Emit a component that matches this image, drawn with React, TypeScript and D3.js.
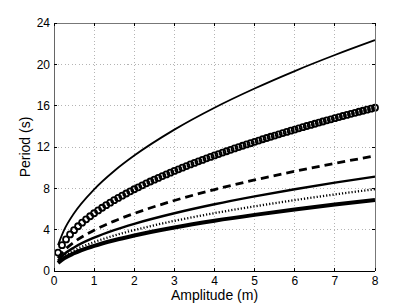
import React, { useEffect, useRef } from 'react';
import * as d3 from 'd3';

// amplitude positions used for the line series
const amplitude = [0.1, 0.25, 0.5, 1, 1.5, 2, 3, 4, 5, 6, 7, 8];

// periods (s)
const periodTop = [2.5, 3.95, 5.59, 7.9, 9.68, 11.17, 13.68, 15.8, 17.66, 19.35, 20.9, 22.34];
const periodDashed = [1.25, 1.97, 2.79, 3.94, 4.83, 5.57, 6.82, 7.88, 8.81, 9.65, 10.42, 11.14];
const periodSolid = [1.02, 1.62, 2.28, 3.23, 3.96, 4.57, 5.59, 6.46, 7.22, 7.91, 8.55, 9.13];
const periodDotted = [0.89, 1.4, 1.98, 2.8, 3.43, 3.96, 4.85, 5.6, 6.26, 6.86, 7.41, 7.92];
const periodThick = [0.77, 1.22, 1.72, 2.43, 2.98, 3.44, 4.21, 4.86, 5.43, 5.95, 6.43, 6.87];

// circle-marker series (one marker every 0.1 m)
const amplitudeMarkers = [
  0.1, 0.2, 0.3, 0.4, 0.5, 0.6, 0.7, 0.8, 0.9, 1.0,
  1.1, 1.2, 1.3, 1.4, 1.5, 1.6, 1.7, 1.8, 1.9, 2.0,
  2.1, 2.2, 2.3, 2.4, 2.5, 2.6, 2.7, 2.8, 2.9, 3.0,
  3.1, 3.2, 3.3, 3.4, 3.5, 3.6, 3.7, 3.8, 3.9, 4.0,
  4.1, 4.2, 4.3, 4.4, 4.5, 4.6, 4.7, 4.8, 4.9, 5.0,
  5.1, 5.2, 5.3, 5.4, 5.5, 5.6, 5.7, 5.8, 5.9, 6.0,
  6.1, 6.2, 6.3, 6.4, 6.5, 6.6, 6.7, 6.8, 6.9, 7.0,
  7.1, 7.2, 7.3, 7.4, 7.5, 7.6, 7.7, 7.8, 7.9, 8.0,
];
const periodMarkers = [
  1.77, 2.5, 3.06, 3.54, 3.95, 4.33, 4.68, 5.0, 5.3, 5.59,
  5.86, 6.12, 6.37, 6.61, 6.85, 7.07, 7.29, 7.5, 7.71, 7.91,
  8.1, 8.29, 8.48, 8.66, 8.84, 9.01, 9.19, 9.35, 9.52, 9.68,
  9.84, 10.0, 10.15, 10.31, 10.46, 10.61, 10.75, 10.9, 11.04, 11.18,
  11.32, 11.46, 11.59, 11.73, 11.86, 11.99, 12.12, 12.25, 12.37, 12.5,
  12.62, 12.75, 12.87, 12.99, 13.11, 13.23, 13.35, 13.46, 13.58, 13.69,
  13.81, 13.92, 14.03, 14.14, 14.25, 14.36, 14.47, 14.58, 14.68, 14.79,
  14.9, 15.0, 15.1, 15.21, 15.31, 15.41, 15.51, 15.61, 15.71, 15.81,
];

const xTicks = [0, 1, 2, 3, 4, 5, 6, 7, 8];
const yTicks = [0, 4, 8, 12, 16, 20, 24];

const FONT = 'Liberation Sans, Arial, Helvetica, sans-serif';

export default function App() {
  const svgRef = useRef<SVGSVGElement>(null);

  useEffect(() => {
    if (!svgRef.current) return;
    const W = 415;
    const H = 305;
    const margin = { top: 23, right: 40, bottom: 34, left: 54 };
    const width = W - margin.left - margin.right;
    const height = H - margin.top - margin.bottom;

    const root = d3.select(svgRef.current);
    root.selectAll('*').remove();
    root.attr('width', W).attr('height', H);

    const x = d3.scaleLinear().domain([0, 8]).range([0, width]);
    const y = d3.scaleLinear().domain([0, 24]).range([height, 0]);

    const g = root.append('g').attr('transform', `translate(${margin.left},${margin.top})`);

    // dotted grid
    const grid = g.append('g').attr('stroke', '#b4b4b4').attr('stroke-width', 1)
      .attr('stroke-dasharray', '1,2.5').attr('shape-rendering', 'crispEdges');
    xTicks.slice(1, -1).forEach((t) => {
      grid.append('line').attr('x1', x(t)).attr('x2', x(t)).attr('y1', 0).attr('y2', height);
    });
    yTicks.slice(1, -1).forEach((t) => {
      grid.append('line').attr('x1', 0).attr('x2', width).attr('y1', y(t)).attr('y2', y(t));
    });

    // line series
    const line = (vals: number[]) =>
      d3.line<number>()
        .x((_d, i) => x(amplitude[i]))
        .y((d) => y(d))
        .curve(d3.curveMonotoneX)(vals);

    g.append('path').attr('d', line(periodThick)).attr('fill', 'none')
      .attr('stroke', '#000').attr('stroke-width', 4);
    g.append('path').attr('d', line(periodDotted)).attr('fill', 'none')
      .attr('stroke', '#000').attr('stroke-width', 2.3).attr('stroke-dasharray', '1.2,2');
    g.append('path').attr('d', line(periodSolid)).attr('fill', 'none')
      .attr('stroke', '#000').attr('stroke-width', 2.4);
    g.append('path').attr('d', line(periodDashed)).attr('fill', 'none')
      .attr('stroke', '#000').attr('stroke-width', 2.8).attr('stroke-dasharray', '8,5');
    g.append('path').attr('d', line(periodTop)).attr('fill', 'none')
      .attr('stroke', '#000').attr('stroke-width', 1.8);

    // circle markers
    g.selectAll('.mk')
      .data(periodMarkers)
      .enter()
      .append('circle')
      .attr('class', 'mk')
      .attr('cx', (_d, i) => x(amplitudeMarkers[i]))
      .attr('cy', (d) => y(d))
      .attr('r', 3)
      .attr('fill', 'none')
      .attr('stroke', '#000')
      .attr('stroke-width', 1.8);

    // box
    const box = g.append('g').attr('shape-rendering', 'crispEdges').attr('fill', 'none');
    box.append('line').attr('x1', 0).attr('x2', width).attr('y1', 0).attr('y2', 0).attr('stroke', '#777');
    box.append('line').attr('x1', width).attr('x2', width).attr('y1', 0).attr('y2', height).attr('stroke', '#777');
    box.append('line').attr('x1', 0).attr('x2', 0).attr('y1', 0).attr('y2', height).attr('stroke', '#666');
    box.append('line').attr('x1', 0).attr('x2', width).attr('y1', height).attr('y2', height).attr('stroke', '#000');

    // inward ticks on all four sides
    const tk = 3;
    xTicks.forEach((t) => {
      box.append('line').attr('x1', x(t)).attr('x2', x(t)).attr('y1', height).attr('y2', height - tk).attr('stroke', '#000');
      box.append('line').attr('x1', x(t)).attr('x2', x(t)).attr('y1', 0).attr('y2', tk).attr('stroke', '#000');
    });
    yTicks.forEach((t) => {
      box.append('line').attr('x1', 0).attr('x2', tk).attr('y1', y(t)).attr('y2', y(t)).attr('stroke', '#000');
      box.append('line').attr('x1', width).attr('x2', width - tk).attr('y1', y(t)).attr('y2', y(t)).attr('stroke', '#000');
    });

    // tick labels
    g.selectAll('.xl').data(xTicks).enter().append('text')
      .attr('x', (d) => x(d)).attr('y', height + 14)
      .attr('text-anchor', 'middle').attr('font-family', FONT).attr('font-size', 12)
      .text((d) => String(d));
    g.selectAll('.yl').data(yTicks).enter().append('text')
      .attr('x', -4).attr('y', (d) => y(d) + 4.3)
      .attr('text-anchor', 'end').attr('font-family', FONT).attr('font-size', 12)
      .text((d) => String(d));

    // axis titles
    g.append('text')
      .attr('x', width / 2).attr('y', height + 28.5)
      .attr('text-anchor', 'middle').attr('font-family', FONT).attr('font-size', 14)
      .text('Amplitude (m)');
    g.append('text')
      .attr('transform', `translate(${-24},${height / 2}) rotate(-90)`)
      .attr('text-anchor', 'middle').attr('font-family', FONT).attr('font-size', 14)
      .text('Period (s)');
  }, []);

  return (
    <div style={{ position: 'absolute', left: 0, top: 0, background: '#fff' }}>
      <svg ref={svgRef} style={{ display: 'block' }} />
    </div>
  );
}
